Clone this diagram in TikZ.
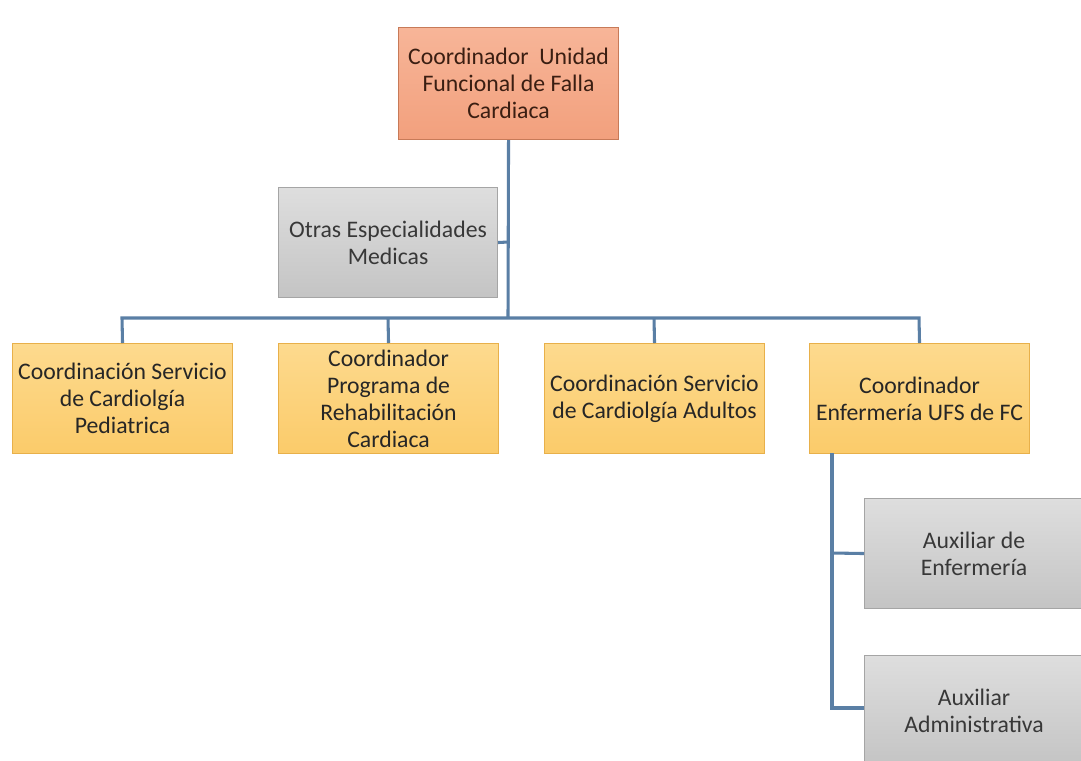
\documentclass[tikz,border=0pt]{standalone}
\usepackage{fontspec}
\setmainfont{Carlito}
\begin{document}
\begin{tikzpicture}[x=0.75pt,y=-0.75pt,
  box/.style={rectangle,minimum width=219*0.75pt,minimum height=110*0.75pt,
    align=center,font=\fontsize{17.8}{20.2}\selectfont,inner sep=0pt,anchor=north west},
  salmon/.style={box,draw=salmonEdge,line width=0.8pt,top color=salmonTop,bottom color=salmonBot,text=salmonText},
  yellowbox/.style={box,draw=yellowEdge,line width=0.8pt,top color=yellowTop,bottom color=yellowBot,text=black!85},
  graybox/.style={box,draw=grayEdge,line width=0.8pt,top color=grayTop,bottom color=grayBot,text=black!78},
  link/.style={draw=linkBlue,line width=2.3pt,line join=miter}]
\definecolor{salmonTop}{HTML}{F7B598}
\definecolor{salmonBot}{HTML}{F2A07D}
\definecolor{salmonEdge}{HTML}{C77A58}
\definecolor{salmonText}{HTML}{3A1E12}
\definecolor{yellowTop}{HTML}{FDDA8E}
\definecolor{yellowBot}{HTML}{FBCB6A}
\definecolor{yellowEdge}{HTML}{E8B04A}
\definecolor{grayTop}{HTML}{DEDEDE}
\definecolor{grayBot}{HTML}{C4C4C4}
\definecolor{grayEdge}{HTML}{A5A5A5}
\definecolor{linkBlue}{HTML}{5A7FA5}
\useasboundingbox[fill=white] (0,0) rectangle (1081,760);

% junction points of the tree
\coordinate (trunk) at (508,318);
\coordinate (side) at (508,242);
\coordinate (c1) at (122,318);
\coordinate (c2) at (388,318);
\coordinate (c3) at (654,318);
\coordinate (c4) at (919,318);
\coordinate (f0) at (832,453);
\coordinate (f1) at (832,553);
\coordinate (f2) at (832,708);

% boxes
\node[salmon,minimum width=220*0.75pt,minimum height=112*0.75pt] (top) at (398,27)
  {Coordinador~ Unidad\\Funcional de Falla\\Cardiaca};
\node[graybox] (otras) at (278,187) {Otras Especialidades\\Medicas};
\node[yellowbox,minimum width=220*0.75pt] (b1) at (12,343) {Coordinación Servicio\\de Cardiolgía\\Pediatrica};
\node[yellowbox,minimum width=220*0.75pt] (b2) at (278,343) {Coordinador\\Programa de\\Rehabilitación\\Cardiaca};
\node[yellowbox,minimum width=220*0.75pt] (b3) at (544,343) {Coordinación Servicio\\de Cardiolgía Adultos};
\node[yellowbox,minimum width=220*0.75pt] (b4) at (809,343) {Coordinador\\Enfermería UFS de FC};
\node[graybox] (a1) at (864,498) {Auxiliar de\\Enfermería};
\node[graybox] (a2) at (864,655) {Auxiliar\\Administrativa};

% connectors
\draw[link] (top.south) -- (trunk);
\draw[link] (otras.east) -- (side);
\draw[link] (b1.north) -- (c1) -- (c4) -- (b4.north);
\draw[link] (c2) -- (b2.north);
\draw[link] (c3) -- (b3.north);
\draw[link] (f0) -- (f2) -- (a2.west |- f2);
\draw[link] (f1) -- (a1.west);
\end{tikzpicture}
\end{document}
